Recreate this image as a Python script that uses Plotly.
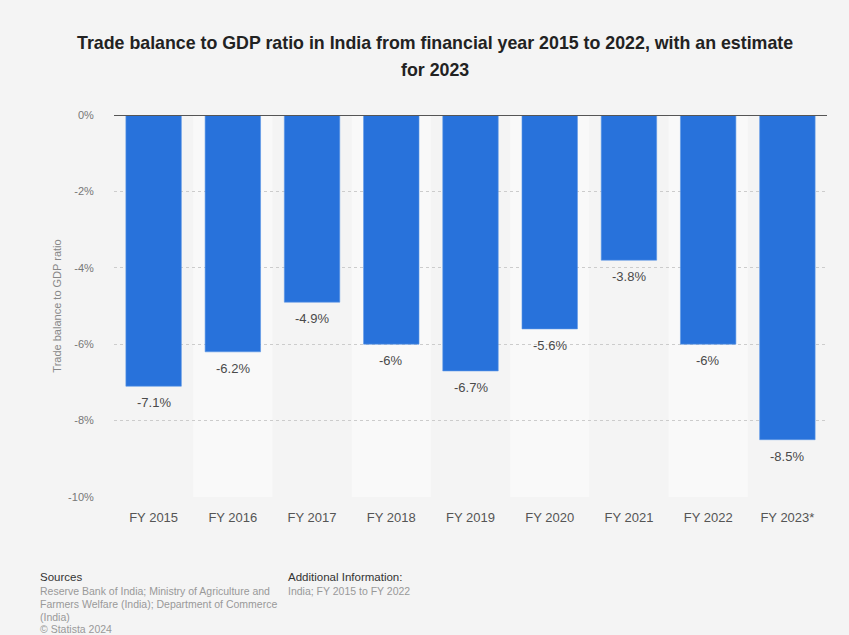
import plotly.graph_objects as go

# Trade balance as a share of GDP, India, FY2015 to FY2023 (estimate)
categories = ["FY 2015", "FY 2016", "FY 2017", "FY 2018", "FY 2019",
              "FY 2020", "FY 2021", "FY 2022", "FY 2023*"]
ratio_pct = [-7.1, -6.2, -4.9, -6.0, -6.7, -5.6, -3.8, -6.0, -8.5]
y_ticks = [0, -2, -4, -6, -8, -10]
y_tick_labels = ["0%", "-2%", "-4%", "-6%", "-8%", "-10%"]

BG = "#f4f4f4"
BAND = "#f9f9f9"
BAR = "#2872db"
FONT = "Liberation Sans, Arial, sans-serif"

W, H = 849, 635
L, R, T, B = 114, 22, 115, 138
PW, PH = W - L - R, H - T - B


def px_x(x):
    return (x - L) / PW


def px_y(y):
    return (H - B - y) / PH


fig = go.Figure()
fig.add_trace(go.Bar(
    x=categories,
    y=ratio_pct,
    marker=dict(color=BAR, line=dict(color="#5c97e6", width=0.6)),
    width=0.7,
    hoverinfo="skip",
))

# lighter background band behind every second category
shapes = []
for i in range(len(categories)):
    if i % 2 == 1:
        shapes.append(dict(type="rect", xref="x", yref="paper",
                           x0=i - 0.5, x1=i + 0.5, y0=0, y1=1,
                           fillcolor=BAND, line=dict(width=0), layer="below"))
# zero baseline
shapes.append(dict(type="line", xref="paper", yref="y", x0=0, x1=1, y0=0, y1=0,
                   line=dict(color="#555555", width=2), layer="above"))

annotations = []

# value labels under each bar end
for c, v in zip(categories, ratio_pct):
    annotations.append(dict(
        x=c, y=v, xref="x", yref="y", text=f"{v:g}%",
        showarrow=False, yanchor="top", yshift=-7,
        font=dict(family=FONT, size=13, color="#4a4a4a"),
    ))

# title, two centred lines
for line, y in [("Trade balance to GDP ratio in India from financial year 2015 to 2022, with an estimate", 43),
                ("for 2023", 70)]:
    annotations.append(dict(
        text=f"<b>{line}</b>", x=px_x(435), y=px_y(y),
        xref="paper", yref="paper", xanchor="center", yanchor="middle",
        showarrow=False, font=dict(family=FONT, size=17.8, color="#222222"),
    ))

foot = [
    ("Sources", 38, 577, "#333333", 11.5),
    ("Reserve Bank of India; Ministry of Agriculture and", 38, 591, "#999999", 10.5),
    ("Farmers Welfare (India); Department of Commerce", 38, 604, "#999999", 10.5),
    ("(India)", 38, 617, "#999999", 10.5),
    ("© Statista 2024", 38, 629, "#999999", 10.5),
    ("Additional Information:", 286, 577, "#333333", 11.5),
    ("India; FY 2015 to FY 2022", 286, 591, "#999999", 10.5),
]
for text, x, y, color, size in foot:
    annotations.append(dict(
        text=text, x=px_x(x), y=px_y(y),
        xref="paper", yref="paper", xanchor="left", yanchor="middle",
        showarrow=False, font=dict(family=FONT, size=size, color=color),
    ))

fig.update_layout(
    width=W, height=H,
    margin=dict(l=L, r=R, t=T, b=B),
    paper_bgcolor=BG, plot_bgcolor=BG,
    showlegend=False,
    xaxis=dict(
        showgrid=False, zeroline=False, showline=False,
        tickfont=dict(family=FONT, size=13, color="#555555"),
        ticks="outside", ticklen=8, tickcolor="rgba(0,0,0,0)",
        range=[-0.5, len(categories) - 0.5],
    ),
    yaxis=dict(
        range=[-10, 0],
        tickvals=y_ticks, ticktext=y_tick_labels,
        showgrid=True, gridcolor="#cccccc", griddash="dot", gridwidth=1,
        zeroline=False, showline=False,
        tickfont=dict(family=FONT, size=11, color="#777777"),
        ticks="outside", ticklen=17, tickcolor="rgba(0,0,0,0)",
        title=dict(text="Trade balance to GDP ratio", standoff=4,
                   font=dict(family=FONT, size=11, color="#888888")),
    ),
    shapes=shapes,
    annotations=annotations,
)

fig.write_html("out.html")
